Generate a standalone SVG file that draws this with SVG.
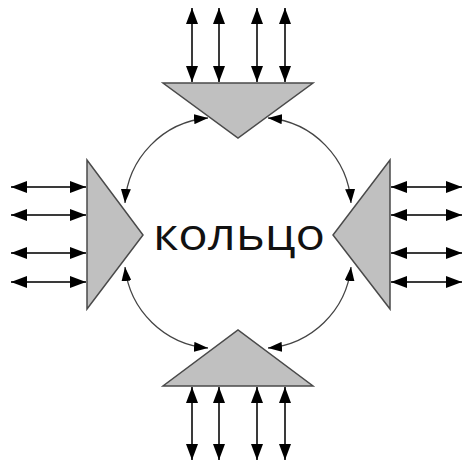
<svg xmlns="http://www.w3.org/2000/svg" width="468" height="465" viewBox="0 0 468 465">
  <style>
    .tri { fill: #c0c0c0; stroke: #4a4a4a; stroke-width: 1.5; stroke-linejoin: miter; }
    .io { stroke: #3a3a3a; stroke-width: 2; fill: none; marker-start: url(#big); marker-end: url(#big); }
    .ring { stroke: #444; stroke-width: 1.3; fill: none; marker-start: url(#small); marker-end: url(#small); }
    .lbl { font-family: "Open Sans", "Noto Sans", sans-serif; font-size: 43px; fill: #111; }
  </style>
  <defs>
    <marker id="big" markerUnits="userSpaceOnUse" viewBox="0 0 16 12" markerWidth="16" markerHeight="12" refX="16" refY="6" orient="auto-start-reverse">
      <path d="M0,0 L16,6 L0,12 z" fill="#000"/>
    </marker>
    <marker id="small" markerUnits="userSpaceOnUse" viewBox="0 0 14 10" markerWidth="14" markerHeight="10" refX="14" refY="5" orient="auto-start-reverse">
      <path d="M0,0 L14,5 L0,10 z" fill="#000"/>
    </marker>
  </defs>

  <g id="connectors">
    <!-- top I/O -->
    <line class="io" x1="192" y1="8" x2="192" y2="82"/>
    <line class="io" x1="219" y1="8" x2="219" y2="82"/>
    <line class="io" x1="257" y1="8" x2="257" y2="82"/>
    <line class="io" x1="285" y1="8" x2="285" y2="82"/>
    <!-- bottom I/O -->
    <line class="io" x1="192" y1="387" x2="192" y2="460"/>
    <line class="io" x1="219" y1="387" x2="219" y2="460"/>
    <line class="io" x1="257" y1="387" x2="257" y2="460"/>
    <line class="io" x1="285" y1="387" x2="285" y2="460"/>
    <!-- left I/O -->
    <line class="io" x1="11" y1="187" x2="86" y2="187"/>
    <line class="io" x1="11" y1="215" x2="86" y2="215"/>
    <line class="io" x1="11" y1="253" x2="86" y2="253"/>
    <line class="io" x1="11" y1="282" x2="86" y2="282"/>
    <!-- right I/O -->
    <line class="io" x1="391" y1="187" x2="462" y2="187"/>
    <line class="io" x1="391" y1="215" x2="462" y2="215"/>
    <line class="io" x1="391" y1="253" x2="462" y2="253"/>
    <line class="io" x1="391" y1="282" x2="462" y2="282"/>
    <!-- ring arcs -->
    <path class="ring" d="M208,118 A91,91 0 0,0 125,203"/>
    <path class="ring" d="M268,118 A91,91 0 0,1 351,203"/>
    <path class="ring" d="M208,348 A91,91 0 0,1 125,267"/>
    <path class="ring" d="M268,348 A91,91 0 0,0 351,267"/>
  </g>

  <g id="node-top">
    <polygon class="tri" points="163,83 313,83 238,138"/>
  </g>
  <g id="node-bottom">
    <polygon class="tri" points="163,386 313,386 238,330"/>
  </g>
  <g id="node-left">
    <polygon class="tri" points="87,160 87,309 143,235"/>
  </g>
  <g id="node-right">
    <polygon class="tri" points="390,160 390,309 333,235"/>
  </g>
  <g id="ring-label">
    <text class="lbl" x="153" y="250" textLength="172" lengthAdjust="spacingAndGlyphs">кольцо</text>
  </g>
</svg>
